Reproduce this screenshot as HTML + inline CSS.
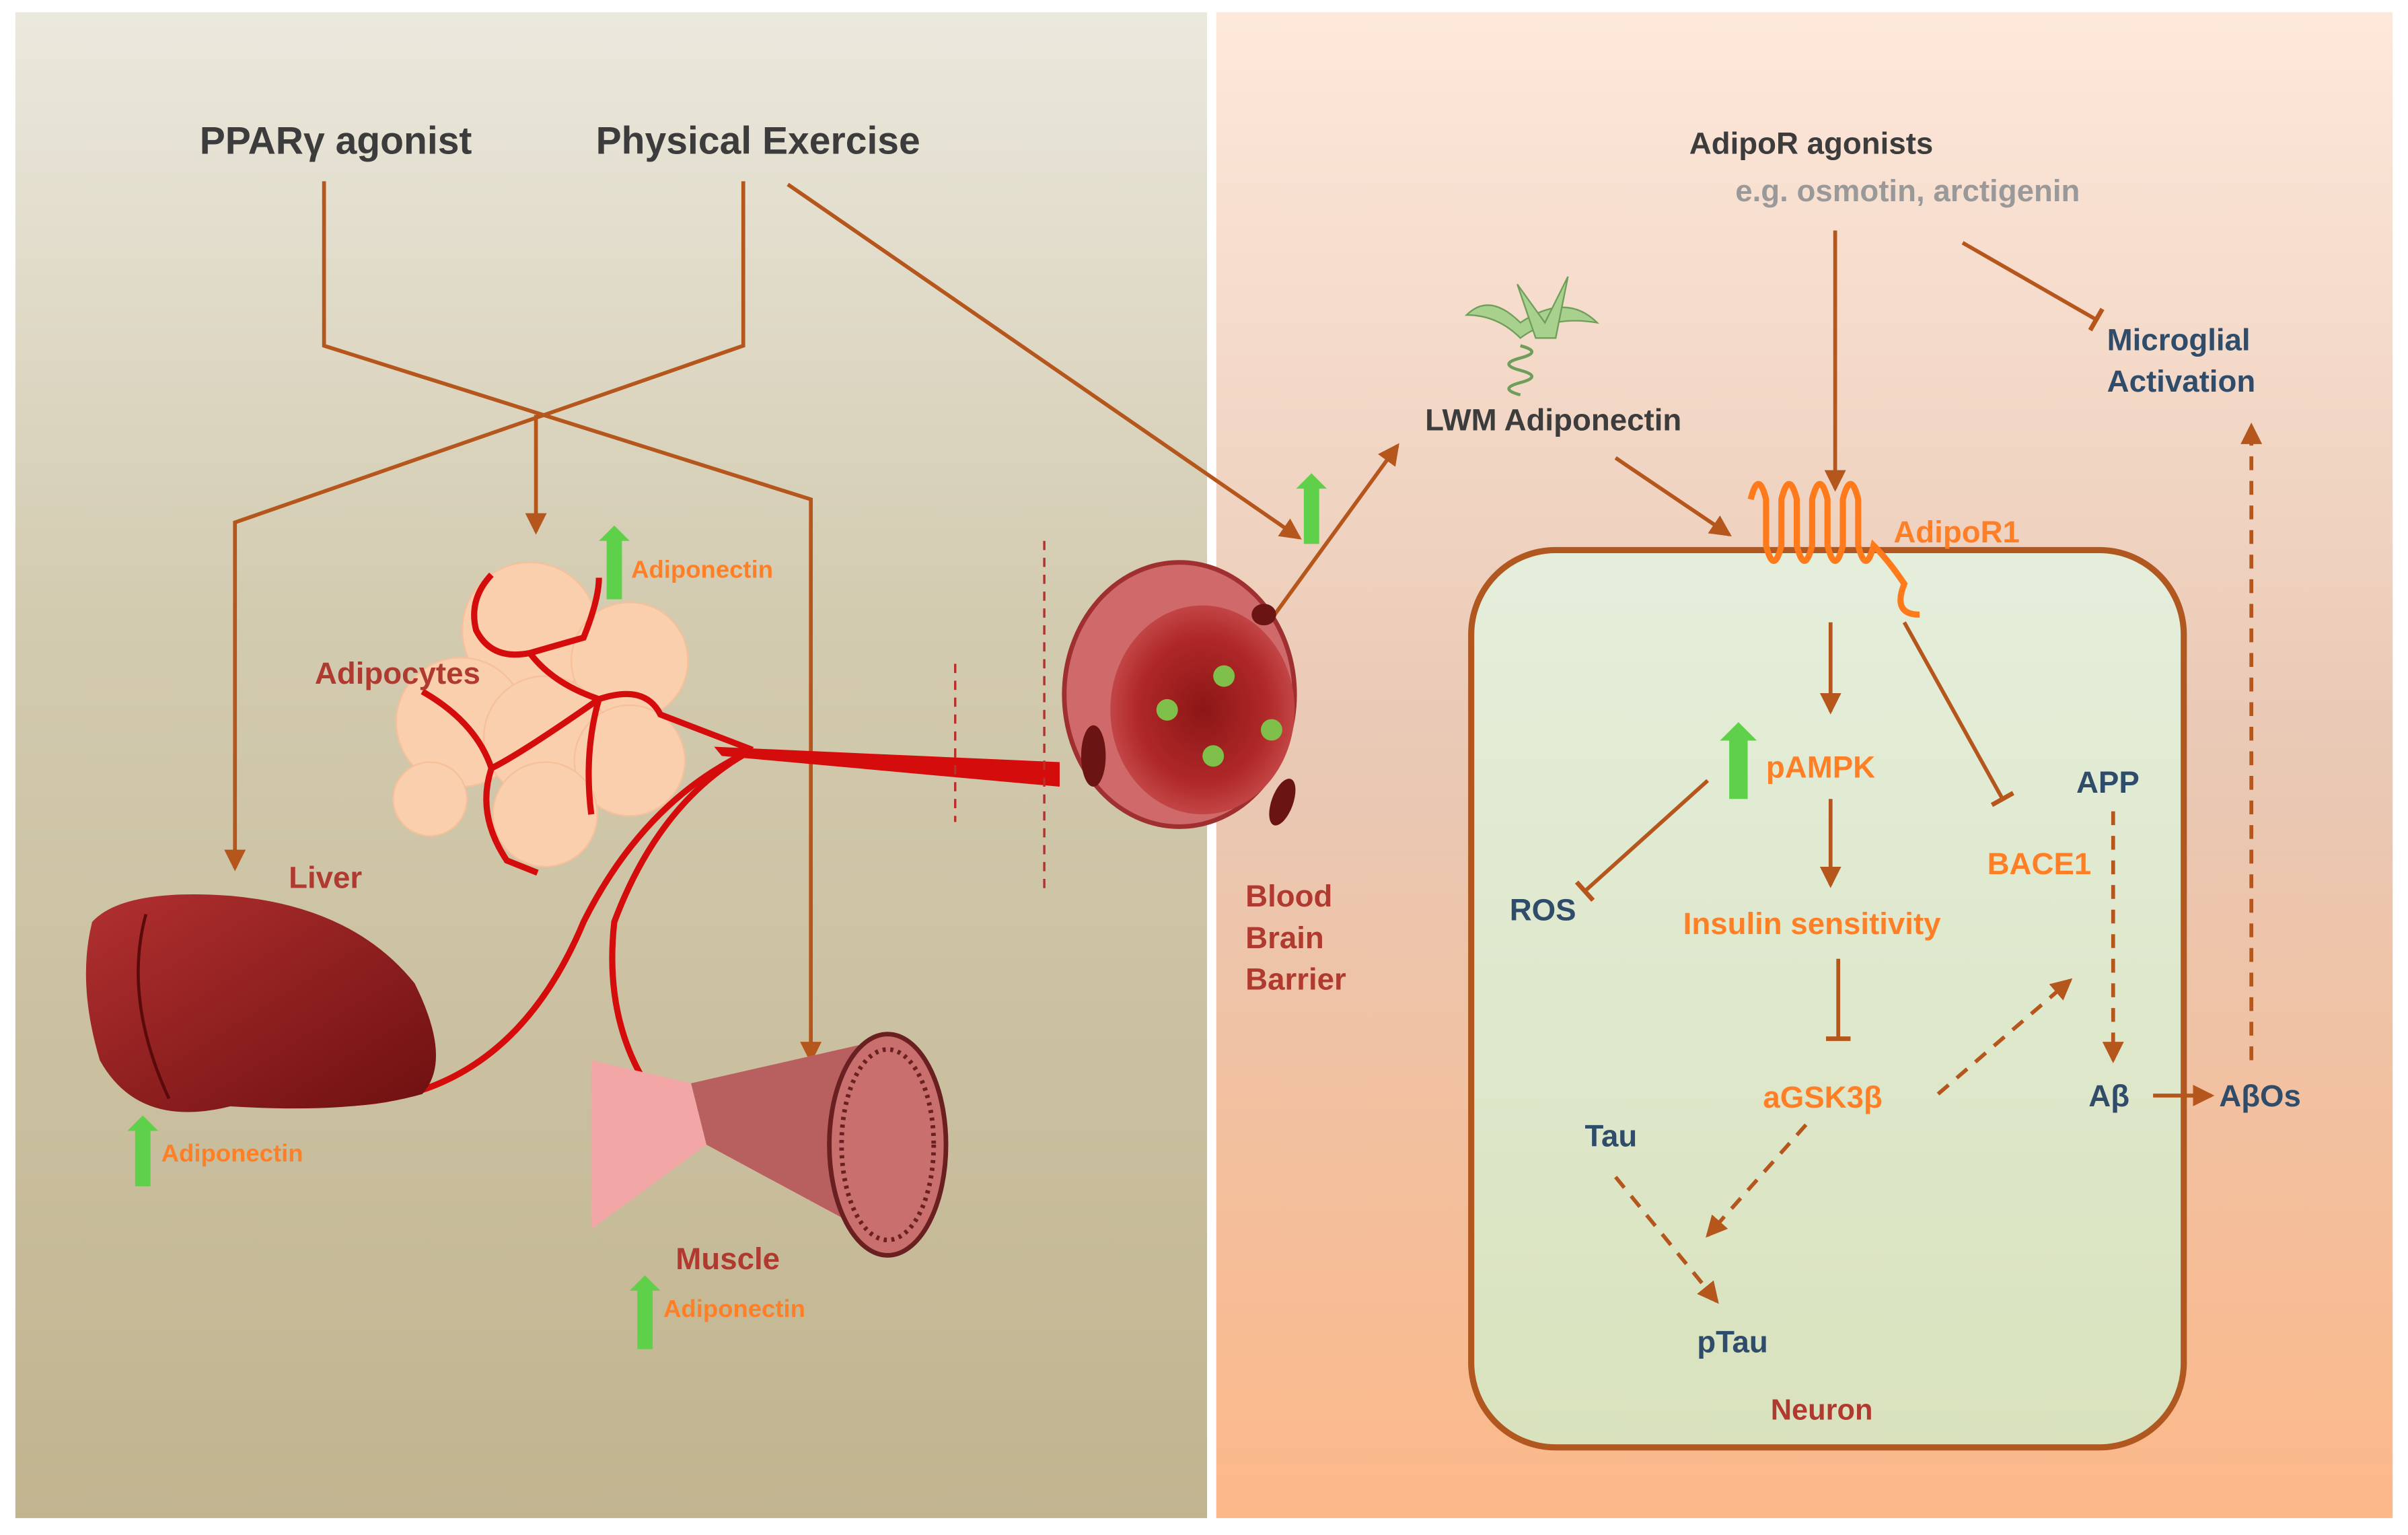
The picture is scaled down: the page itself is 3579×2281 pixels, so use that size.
<!DOCTYPE html>
<html><head><meta charset="utf-8"><style>
html,body{margin:0;padding:0;background:#fff;width:3579px;height:2281px;overflow:hidden}
svg{display:block}
text{font-family:"Liberation Sans",Arial,sans-serif;font-weight:bold}
</style></head><body>
<svg width="3579" height="2281" viewBox="0 0 1568 999" preserveAspectRatio="none" xmlns="http://www.w3.org/2000/svg">
<defs>
<linearGradient id="lg" x1="0" y1="0" x2="0" y2="1"><stop offset="0" stop-color="#ebe8dd"/><stop offset="0.4" stop-color="#d3cbb0"/><stop offset="1" stop-color="#c1b48f"/></linearGradient>
<linearGradient id="rg" x1="0" y1="0" x2="0" y2="1"><stop offset="0" stop-color="#fde8da"/><stop offset="0.5" stop-color="#e9c8b4"/><stop offset="1" stop-color="#fcb889"/></linearGradient>
<linearGradient id="ng" x1="0" y1="0" x2="0" y2="1"><stop offset="0" stop-color="#e4eedb"/><stop offset="1" stop-color="#d9e2bd"/></linearGradient>
<radialGradient id="bb" cx="0.5" cy="0.5" r="0.5"><stop offset="0" stop-color="#8c1616"/><stop offset="0.7" stop-color="#b02828"/><stop offset="1" stop-color="#c24545"/></radialGradient>
<linearGradient id="lv" x1="0" y1="0" x2="1" y2="1"><stop offset="0" stop-color="#b23030"/><stop offset="1" stop-color="#6e1010"/></linearGradient>
<marker id="ah" markerWidth="14" markerHeight="14" refX="12" refY="7" orient="auto" markerUnits="userSpaceOnUse"><path d="M0,0 L14,7 L0,14z" fill="#b5561d"/></marker>
<marker id="t" markerWidth="4" markerHeight="16" refX="2" refY="8" orient="auto" markerUnits="userSpaceOnUse"><path d="M2,0 L2,16" stroke="#b5561d" stroke-width="3"/></marker>
</defs>
<rect width="1568" height="999" fill="#fff"/>
<rect x="10" y="8" width="776" height="980" fill="url(#lg)"/>
<rect x="792" y="8" width="766" height="980" fill="url(#rg)"/>
<rect x="958" y="358" width="464" height="584" rx="55" fill="url(#ng)" stroke="#b0581f" stroke-width="4"/>

<g fill="none" stroke="#b5561d" stroke-width="2.5">
<path d="M211,118 V225 L528,325 V690" marker-end="url(#ah)"/>
<path d="M484,118 V225 L153,340 V565" marker-end="url(#ah)"/>
<path d="M349,270 V346" marker-end="url(#ah)"/>
<path d="M513,120 L846,350" marker-end="url(#ah)"/>
<path d="M790,455 L910,290" marker-end="url(#ah)"/>
<path d="M1052,298 L1126,348" marker-end="url(#ah)"/>
<path d="M1195,150 V318" marker-end="url(#ah)"/>
<path d="M1278,158 L1365,208" marker-end="url(#t)"/>
<path d="M1192,405 V463" marker-end="url(#ah)"/>
<path d="M1192,520 V576" marker-end="url(#ah)"/>
<path d="M1197,624 V676" marker-end="url(#t)"/>
<path d="M1240,405 L1304,520" marker-end="url(#t)"/>
<path d="M1112,508 L1032,580" marker-end="url(#t)"/>
<path d="M1402,713 H1440" marker-end="url(#ah)"/>
</g>
<g fill="none" stroke="#b5561d" stroke-width="2.5" stroke-dasharray="9,7">
<path d="M1376,528 V690" marker-end="url(#ah)"/>
<path d="M1262,712 L1348,638" marker-end="url(#ah)"/>
<path d="M1176,732 L1112,804" marker-end="url(#ah)"/>
<path d="M1052,766 L1118,847" marker-end="url(#ah)"/>
<path d="M1466,690 V277" marker-end="url(#ah)"/>
</g>

<g fill="#5fd04a">
<path d="M395,390 V352 h-5 l10,-10 l10,10 h-5 V390z"/>
<path d="M88,772 V736 h-5 l10,-10 l10,10 h-5 V772z"/>
<path d="M415,878 V840 h-5 l10,-10 l10,10 h-5 V878z"/>
<path d="M849,354 V318 h-5 l10,-10 l10,10 h-5 V354z"/>
<path d="M1126,520 V482 h-6 l12,-12 l12,12 h-6 V520z"/>
</g>

<g fill="#f9cfae" stroke="#f5c09a">
<circle cx="345" cy="410" r="44"/><circle cx="410" cy="430" r="38"/><circle cx="300" cy="470" r="42"/>
<circle cx="355" cy="480" r="40"/><circle cx="410" cy="495" r="36"/><circle cx="355" cy="530" r="34"/><circle cx="280" cy="520" r="24"/>
</g>
<g fill="none" stroke="#d40c0c" stroke-width="4">
<path d="M320,374 Q305,390 310,410 Q320,430 345,425 L380,415 Q390,390 390,376"/>
<path d="M345,425 Q360,445 390,455 Q420,445 430,465 L490,488"/>
<path d="M275,450 Q310,470 320,500 Q340,490 390,455"/>
<path d="M320,500 Q310,530 330,560 L350,568"/>
<path d="M390,455 Q380,490 385,530"/>
<path d="M490,488 Q430,520 400,600 Q390,690 455,745"/>
<path d="M490,488 Q420,520 380,600 Q330,720 215,718"/>
</g>
<path d="M465,486 L690,496 L690,512 L470,492z" fill="#d40c0c"/>
<path d="M622,432 V535 M680,352 V580" stroke="#b8302a" stroke-width="1.5" stroke-dasharray="6,5"/>

<path d="M60,600 Q80,578 150,583 Q230,590 270,640 Q295,690 275,712 Q230,725 150,720 Q90,735 65,690 Q50,640 60,600z" fill="url(#lv)"/>
<path d="M95,595 Q80,650 110,715" stroke="#5a0a0a" stroke-width="2" fill="none"/>

<path d="M385,690 L450,705 L560,680 L580,810 L460,745 L385,800z" fill="#f3a6a6"/>
<path d="M450,705 L560,680 L590,815 L460,745z" fill="#b86060"/>
<ellipse cx="578" cy="745" rx="38" ry="72" fill="#c9706e" stroke="#6a2020" stroke-width="3"/>
<ellipse cx="578" cy="745" rx="30" ry="62" fill="none" stroke="#6a2020" stroke-dasharray="2,3" stroke-width="3"/>

<ellipse cx="768" cy="452" rx="75" ry="86" fill="#d06a6a" stroke="#a03030" stroke-width="3"/>
<ellipse cx="783" cy="462" rx="60" ry="68" fill="url(#bb)"/>
<ellipse cx="712" cy="492" rx="8" ry="20" fill="#6a1414"/>
<ellipse cx="835" cy="522" rx="7" ry="16" fill="#6a1414" transform="rotate(20 835 522)"/>
<ellipse cx="823" cy="400" rx="8" ry="7" fill="#6a1414"/>
<g fill="#7fc04a"><circle cx="760" cy="462" r="7"/><circle cx="797" cy="440" r="7"/><circle cx="828" cy="475" r="7"/><circle cx="790" cy="492" r="7"/></g>

<g fill="#a9d18e" stroke="#6f9e5a"><path d="M990,210 Q970,190 955,205 Q975,205 990,220 Q1010,205 1040,210 Q1020,190 990,210z"/><path d="M1000,220 l-12,-35 l18,25 l15,-30 l-8,40z"/></g>
<path d="M990,225 q15,4 0,8 q-15,4 0,8 q15,4 0,8 q-15,4 0,8" stroke="#6f9e5a" fill="none" stroke-width="2"/>

<path d="M1140,325 q5,-20 10,0 v30 q5,20 10,0 v-30 q5,-20 10,0 v30 q5,20 10,0 v-30 q5,-20 10,0 v30 q5,20 10,0 v-30 q5,-20 10,0 v30 q5,20 10,0 q10,10 20,25 q-8,20 10,20" stroke="#ff7a1a" stroke-width="4" fill="none"/>

<g fill="#3c3c3c" font-size="25">
<text x="130" y="100">PPARγ agonist</text><text x="388" y="100">Physical Exercise</text>
</g>
<g fill="#b03a30" font-size="20">
<text x="205" y="445">Adipocytes</text><text x="188" y="578">Liver</text><text x="440" y="826">Muscle</text>
<text x="811" y="590" font-weight="normal">Blood</text><text x="811" y="617" font-weight="normal">Brain</text><text x="811" y="644" font-weight="normal">Barrier</text>
<text x="1153" y="924" font-size="19">Neuron</text>
</g>
<g fill="#ff7f27" font-size="16" font-weight="normal">
<text x="411" y="376">Adiponectin</text><text x="105" y="756">Adiponectin</text><text x="432" y="857">Adiponectin</text>
</g>
<g fill="#3c3c3c" font-size="20"><text x="1100" y="100">AdipoR  agonists</text><text x="928" y="280">LWM Adiponectin</text></g>
<text x="1130" y="131" fill="#999" font-size="20" font-weight="normal">e.g. osmotin, arctigenin</text>
<g fill="#2f4d6a" font-size="20">
<text x="1372" y="228">Microglial</text><text x="1372" y="255">Activation</text>
<text x="1352" y="516">APP</text><text x="983" y="599">ROS</text><text x="1032" y="746">Tau</text>
<text x="1360" y="720">Aβ</text><text x="1445" y="720">AβOs</text><text x="1105" y="880">pTau</text>
</g>
<g fill="#ff7f27" font-size="20">
<text x="1233" y="353">AdipoR1</text><text x="1150" y="506">pAMPK</text><text x="1096" y="608">Insulin  sensitivity</text>
<text x="1294" y="569">BACE1</text><text x="1148" y="721">aGSK3β</text>
</g>
</svg>
</body></html>
